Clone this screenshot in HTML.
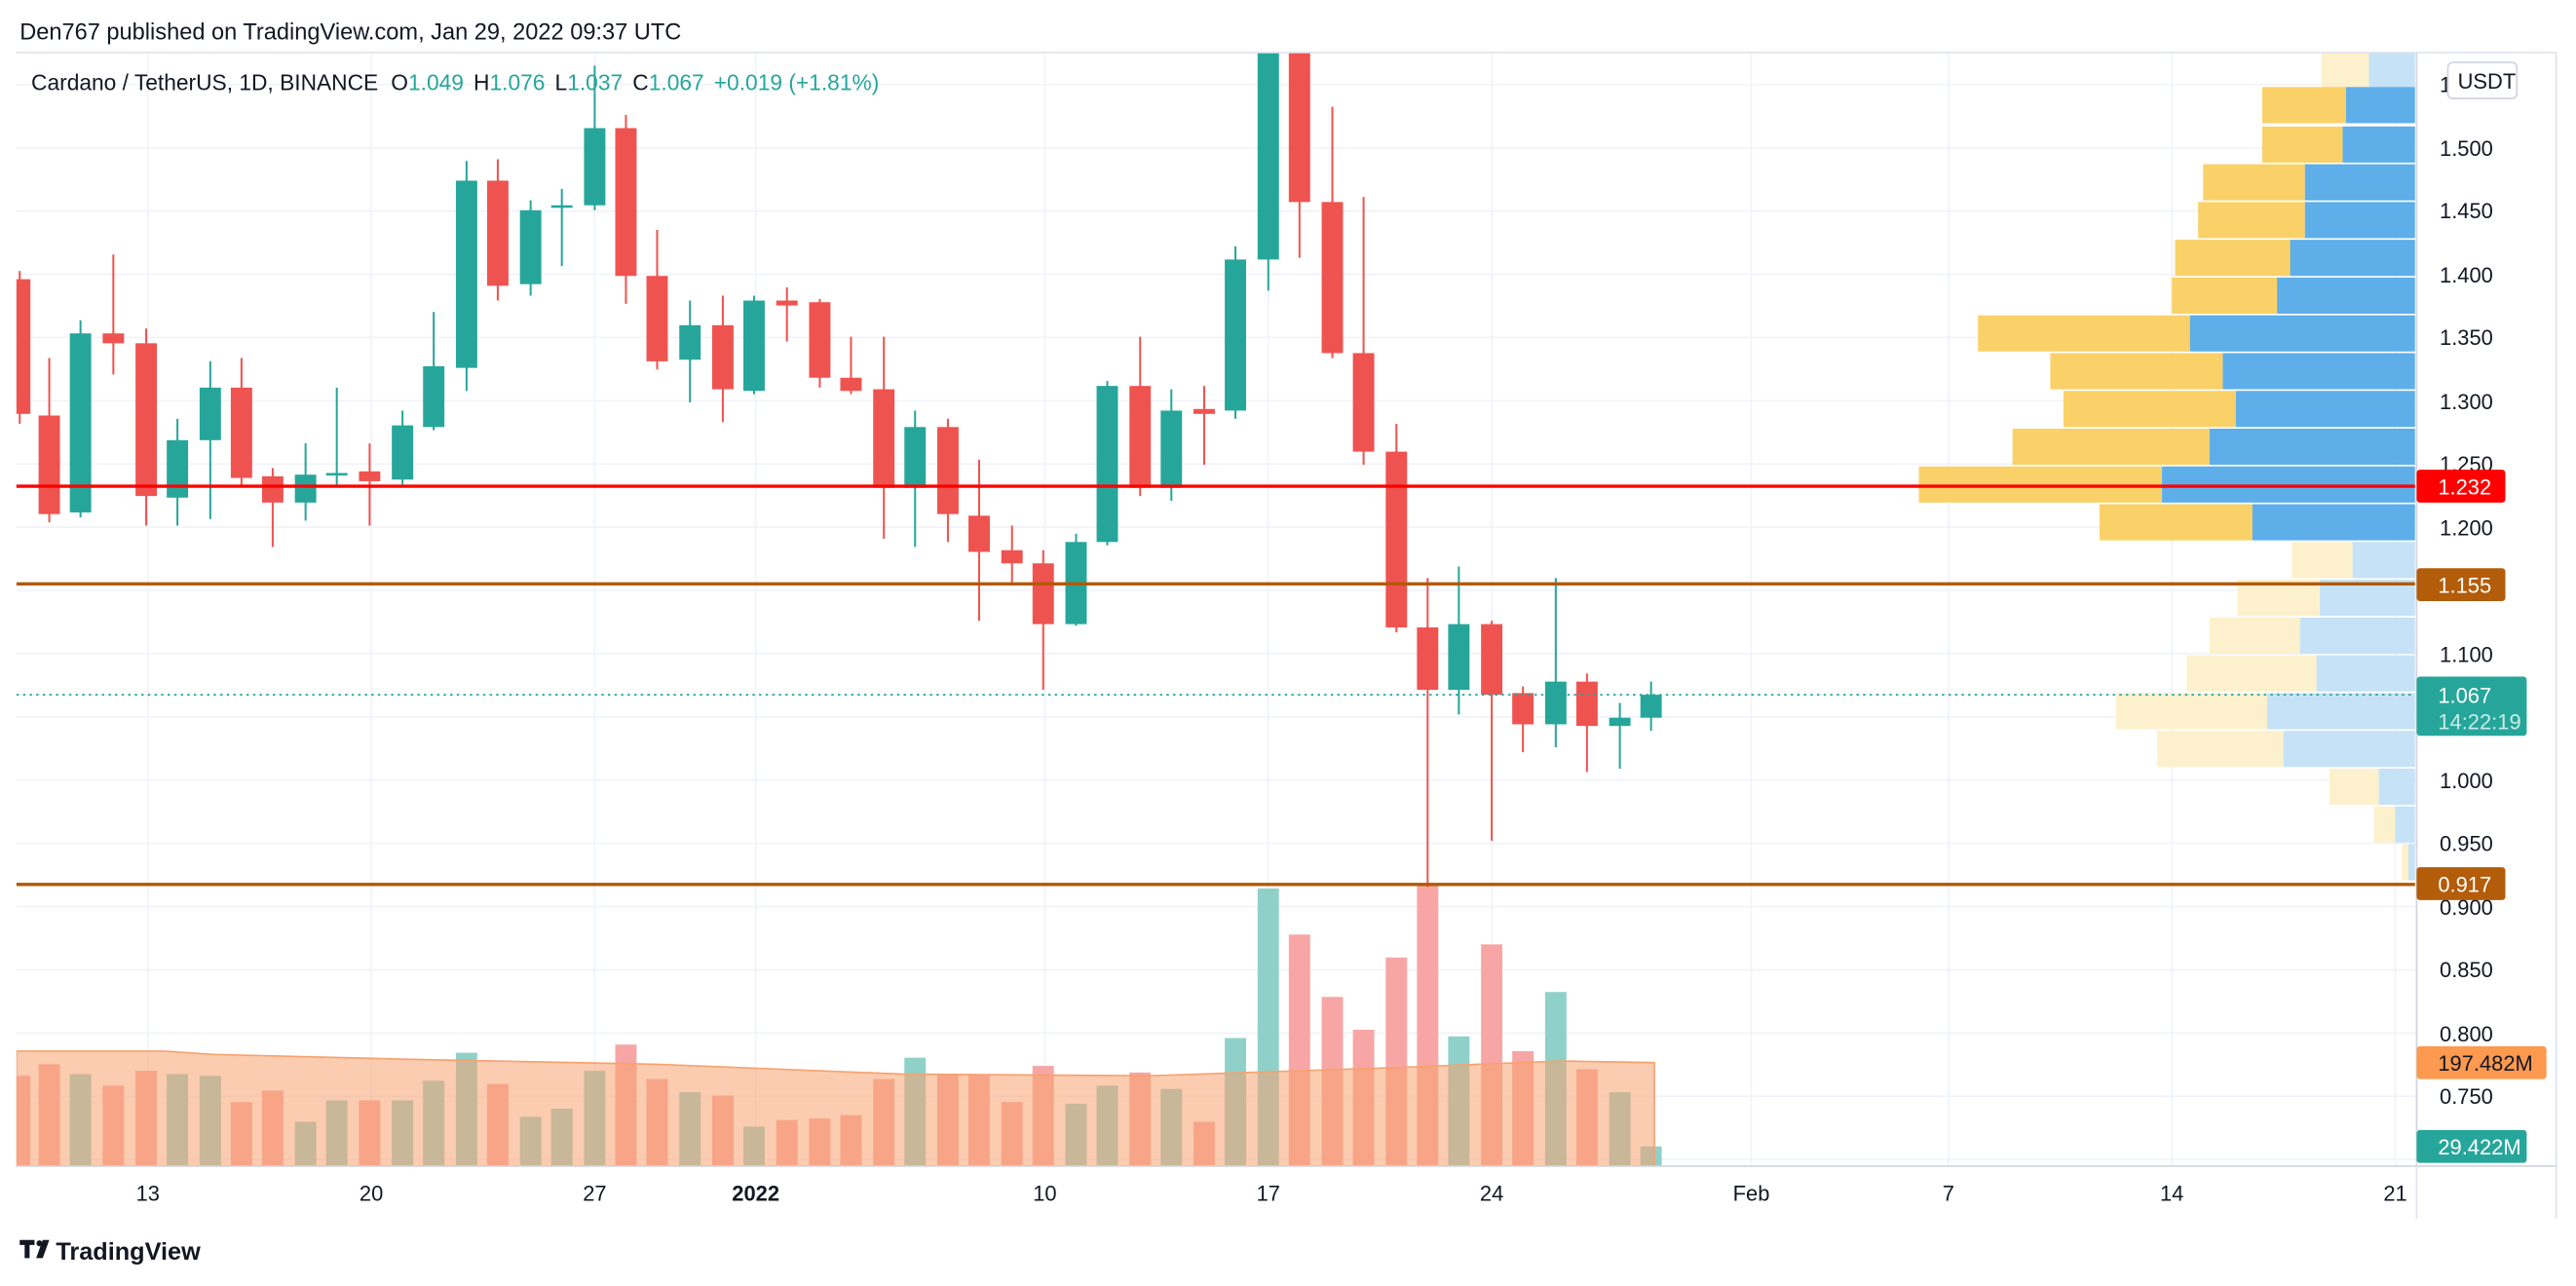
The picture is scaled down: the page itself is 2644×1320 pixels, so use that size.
<!DOCTYPE html>
<html><head><meta charset="utf-8"><style>
html,body{margin:0;padding:0;background:#fff;}
svg{display:block;font-family:"Liberation Sans","DejaVu Sans",sans-serif;}
</style></head><body>
<svg id="s" width="2644" height="1320" viewBox="0 0 1568 783" preserveAspectRatio="none" xmlns="http://www.w3.org/2000/svg">
<defs><clipPath id="cp"><rect x="10" y="32" width="1461" height="678"/></clipPath></defs>
<rect width="1568" height="783" fill="#fff"/>
<g id="grid" stroke="#f0f3fa" stroke-width="1"></g>
<g clip-path="url(#cp)">
<g id="vp"></g>
<g id="vol"></g>
<path id="ma" fill="#f7a26f" fill-opacity="0.55" stroke="#f7a26f" stroke-width="1"/>
<g id="cnd"></g>
</g>
<line x1="10" y1="296" x2="1470" y2="296" stroke="#ff0000" stroke-width="2"/>
<line x1="10" y1="355.5" x2="1470" y2="355.5" stroke="#b35900" stroke-width="2"/>
<line x1="10" y1="538.5" x2="1470" y2="538.5" stroke="#b35900" stroke-width="2"/>
<line x1="10" y1="423" x2="1470" y2="423" stroke="#26a69a" stroke-width="1" stroke-dasharray="1.5,2.5"/>
<line x1="10" y1="32" x2="1556" y2="32" stroke="#e0e3eb"/>
<line x1="1471" y1="32" x2="1471" y2="710" stroke="#d1d4dc"/>
<line x1="1556" y1="32" x2="1556" y2="742" stroke="#e0e3eb"/>
<line x1="10" y1="710" x2="1556" y2="710" stroke="#d1d4dc"/>
<line x1="1471" y1="710" x2="1471" y2="742" stroke="#e0e3eb"/>
<text x="12" y="24" font-size="14" fill="#131722">Den767 published on TradingView.com, Jan 29, 2022 09:37 UTC</text>
<text x="19" y="55" font-size="13.5" fill="#131722">Cardano / TetherUS, 1D, BINANCE <tspan dx="4">O</tspan><tspan fill="#26a69a">1.049</tspan><tspan dx="6">H</tspan><tspan fill="#26a69a">1.076</tspan><tspan dx="6">L</tspan><tspan fill="#26a69a">1.037</tspan><tspan dx="6">C</tspan><tspan fill="#26a69a">1.067</tspan><tspan dx="6" fill="#26a69a">+0.019 (+1.81%)</tspan></text>
<g font-size="13" fill="#131722">
<text x="1485" y="56">1.550</text>
<text x="1485" y="95">1.500</text><text x="1485" y="133">1.450</text><text x="1485" y="172">1.400</text><text x="1485" y="210">1.350</text><text x="1485" y="249">1.300</text><text x="1485" y="287">1.250</text><text x="1485" y="326">1.200</text><text x="1485" y="403">1.100</text><text x="1485" y="480">1.000</text><text x="1485" y="518">0.950</text><text x="1485" y="557">0.900</text><text x="1485" y="595">0.850</text><text x="1485" y="634">0.800</text><text x="1485" y="672">0.750</text>
</g>
<rect x="1490" y="38" width="42" height="22" rx="3" fill="#fff" stroke="#d1d4dc"/>
<text x="1496" y="54" font-size="13" fill="#131722">USDT</text>
<rect x="1471" y="286" width="54" height="20" rx="2" fill="#ff0000"/><text x="1484" y="301" font-size="13" fill="#fff">1.232</text>
<rect x="1471" y="346" width="54" height="20" rx="2" fill="#b35c0a"/><text x="1484" y="361" font-size="13" fill="#fff">1.155</text>
<rect x="1471" y="412" width="67" height="36" rx="2" fill="#26a69a"/><text x="1484" y="428" font-size="13" fill="#fff">1.067</text><text x="1484" y="444" font-size="13" fill="#c8ece8">14:22:19</text>
<rect x="1471" y="528" width="54" height="20" rx="2" fill="#b35c0a"/><text x="1484" y="543" font-size="13" fill="#fff">0.917</text>
<rect x="1471" y="637" width="79" height="20" rx="2" fill="#fe9950"/><text x="1484" y="652" font-size="13" fill="#131722">197.482M</text>
<rect x="1471" y="688" width="67" height="20" rx="2" fill="#26a69a"/><text x="1484" y="703" font-size="13" fill="#fff">29.422M</text>
<g font-size="13" fill="#131722" text-anchor="middle">
<text x="90" y="731">13</text><text x="226" y="731">20</text><text x="362" y="731">27</text><text x="460" y="731" font-weight="bold">2022</text><text x="636" y="731">10</text><text x="772" y="731">17</text><text x="908" y="731">24</text><text x="1066" y="731">Feb</text><text x="1186" y="731">7</text><text x="1322" y="731">14</text><text x="1458" y="731">21</text>
</g>
<g transform="translate(12,755)" fill="#131722"><path d="M0 0h9v3h-3v8h-3v-8h-3z"/><circle cx="12" cy="2" r="1.8"/><path d="M14 0h4l-4 11h-4z"/></g>
<text x="34" y="767" font-size="15" font-weight="bold" fill="#131722">TradingView</text>
</svg>
<script>
const NS="http://www.w3.org/2000/svg";
function el(p,t,a){const e=document.createElementNS(NS,t);for(const k in a)e.setAttribute(k,a[k]);document.getElementById(p).appendChild(e);return e;}
[90,226,362,460,636,772,908,1066,1186,1322,1458].forEach(x=>el("grid","line",{x1:x,y1:32,x2:x,y2:710}));
for(let y=51.5;y<710;y+=38.5)el("grid","line",{x1:10,y1:y,x2:1471,y2:y});
const vp=[[32,1413,1442,1],[53,1377,1428,0],[77,1377,1426,0],[100,1341,1403,0],[123,1338,1403,0],[146,1324,1394,0],[169,1322,1386,0],[192,1204,1333,0],[215,1248,1353,0],[238,1256,1361,0],[261,1225,1345,0],[284,1168,1316,0],[307,1278,1371,0],[330,1395,1432,1],[353,1362,1412,1],[376,1345,1400,1],[399,1331,1410,1],[422,1288,1380,1],[445,1313,1390,1],[468,1418,1448,1],[491,1445,1458,1],[514,1462,1466,1]];
vp.forEach(r=>{const h=22;el("vp","rect",{x:r[1],y:r[0],width:r[2]-r[1],height:h,fill:r[3]?"#fdf0cc":"#fad168"});el("vp","rect",{x:r[2],y:r[0],width:1470-r[2],height:h,fill:r[3]?"#c6e2f6":"#5eaeea"});});
const C=[[12,170,252,165,258],[30,253,313,218,318],[49,312,203,195,315],[69,203,209,155,228],[89,209,302,200,320],[108,303,268,255,320],[128,268,236,220,316],[147,236,291,218,296],[166,290,306,285,333],[186,306,289,270,317],[205,289,288,236,296],[225,287,293,270,320],[245,292,259,250,295],[264,260,223,190,262],[284,224,110,98,238],[303,110,174,97,183],[323,173,128,122,180],[342,126,125,115,162],[362,125,78,40,128],[381,78,168,70,185],[400,168,220,140,225],[420,219,198,183,245],[440,198,237,180,257],[459,238,183,180,240],[479,183,186,175,208],[499,184,230,182,236],[518,230,238,205,240],[538,237,297,205,328],[557,297,260,250,333],[577,260,313,255,330],[596,314,336,280,378],[616,335,343,320,355],[635,343,380,335,420],[655,380,330,325,381],[674,330,235,232,332],[694,235,297,205,302],[713,297,250,237,305],[733,249,252,235,283],[752,250,158,150,255],[772,158,32,32,177],[791,32,123,32,157],[811,123,215,65,218],[830,215,275,120,283],[850,275,382,258,385],[869,382,420,352,540],[888,420,380,345,435],[908,380,423,378,512],[927,422,441,418,458],[947,441,415,352,455],[966,415,442,410,470],[986,442,437,428,468],[1005,437,423,415,445]];
const V=[655,648,654,661,652,654,655,671,664,683,670,670,670,658,641,660,680,675,652,636,657,665,667,686,682,681,679,657,644,654,654,671,649,672,661,653,663,683,632,541,569,607,627,583,538,631,575,640,604,651,665,698];
C.forEach((c,i)=>{const up=c[2]<c[1];const col=up?"#26a69a":"#ef5350";
 el("vol","rect",{x:c[0]-6.5,y:V[i],width:13,height:710-V[i],fill:up?"#8fd1c9":"#f7a6a5"});
 el("cnd","line",{x1:c[0],x2:c[0],y1:c[3],y2:c[4],stroke:col,"stroke-width":1.2});
 const t=Math.min(c[1],c[2]),b=Math.max(c[1],c[2]);
 el("cnd","rect",{x:c[0]-6.5,y:t,width:13,height:Math.max(b-t,1.5),fill:col});});
document.getElementById("ma").setAttribute("d","M10 640 L100 640 L130 642 L250 645 L400 648 L550 654 L700 655 L760 653 L850 650 L950 646 L1007 647 L1007 710 L10 710 Z");
</script>
</body></html>
